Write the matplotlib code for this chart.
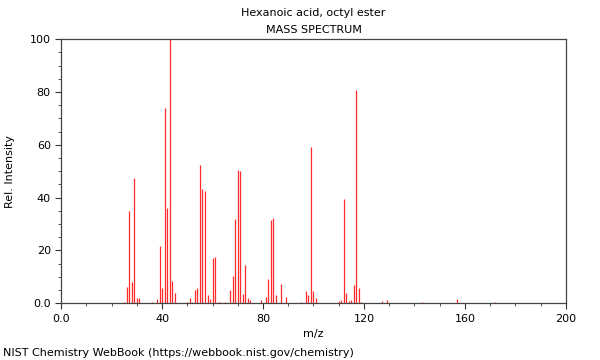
#!/usr/bin/env python3
"""Espectro de massas (NIST) do hexanoato de octila, redesenhado."""

import matplotlib

matplotlib.use("Agg")
import matplotlib.pyplot as plt  # noqa: E402
from matplotlib.ticker import MultipleLocator  # noqa: E402

TITULO = "Hexanoic acid, octyl ester"
SUBTITULO = "MASS SPECTRUM"
RODAPE = "NIST Chemistry WebBook (https://webbook.nist.gov/chemistry)"

# m/z e intensidade relativa
MZ = [25, 26, 27, 28, 29, 30, 31, 36, 38, 39, 40, 41, 42, 43, 44, 45,
      50, 51, 52, 53, 54, 55, 56, 57, 58, 59, 60, 61, 62, 63, 65,
      67, 68, 69, 70, 71, 72, 73, 74, 75, 79, 81, 82, 83, 84, 85, 87, 89,
      95, 97, 98, 99, 100, 101, 110, 111, 112, 113, 114, 115, 116, 117,
      118, 119, 127, 129, 143, 157, 172]
INTENS = [0.3, 6.1, 35.0, 8.0, 47.6, 2.0, 1.8, 0.6, 1.5, 21.5, 5.9, 74.0,
          36.2, 100.0, 8.5, 3.9,
          0.6, 1.8, 0.3, 5.0, 5.9, 52.5, 43.3, 42.6, 3.2, 1.4, 17.0, 17.3,
          0.5, 0.4, 0.4,
          5.0, 10.4, 31.8, 50.5, 49.9, 3.4, 14.4, 1.8, 1.1, 1.1, 2.4, 9.2,
          31.6, 32.2, 3.0, 7.3, 2.4,
          0.5, 4.7, 2.9, 59.0, 4.5, 1.8, 0.9, 1.3, 39.3, 3.8, 0.9, 1.3, 6.9,
          80.9, 5.9, 0.5, 0.9, 1.3, 0.4, 1.4, 0.4]

X_TICKS = [0, 40, 80, 120, 160, 200]
X_ROTULOS = ["0.0", "40", "80", "120", "160", "200"]
Y_TICKS = [0, 20, 40, 60, 80, 100]
Y_ROTULOS = ["0.0", "20", "40", "60", "80", "100"]

fig = plt.figure(figsize=(6.0, 3.6), dpi=100)
ax = fig.add_axes([0.102, 0.158, 0.841, 0.733])

ax.vlines(MZ, 0, INTENS, color="#ff2a2a", linewidth=0.9)

ax.set_xlim(0, 200)
ax.set_ylim(0, 100)
ax.set_xticks(X_TICKS)
ax.set_xticklabels(X_ROTULOS)
ax.set_yticks(Y_TICKS)
ax.set_yticklabels(Y_ROTULOS)
ax.xaxis.set_minor_locator(MultipleLocator(10))
ax.yaxis.set_minor_locator(MultipleLocator(5))
ax.tick_params(which="major", length=4, width=0.8, labelsize=8, color="#333333")
ax.tick_params(which="minor", length=2.5, width=0.7, color="#555555")
for s in ax.spines.values():
    s.set_color("#444444")
    s.set_linewidth(0.9)

ax.set_xlabel("m/z", fontsize=8, labelpad=4)
ax.set_ylabel("Rel. Intensity", fontsize=8, labelpad=11)

# títulos centrados sobre a área do gráfico
cx = 0.102 + 0.841 / 2
fig.text(cx, 0.963, TITULO, ha="center", va="center", fontsize=8)
fig.text(cx, 0.916, SUBTITULO, ha="center", va="center", fontsize=8)
fig.text(0.005, 0.019, RODAPE, ha="left", va="center", fontsize=8)

fig.savefig("out.png", dpi=100, facecolor="white")
plt.close(fig)
